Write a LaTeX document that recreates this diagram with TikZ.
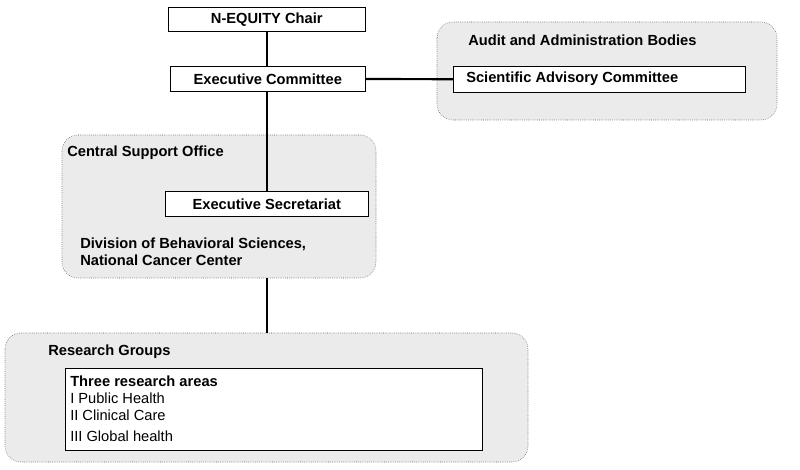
\documentclass[tikz,border=0pt]{standalone}
\usepackage{fontspec}
\setmainfont{Liberation Sans}
\usetikzlibrary{positioning}
\begin{document}
\begin{tikzpicture}
[
 x=0.75pt, y=-0.75pt,
 every node/.style={font=\fontsize{11}{13}\selectfont\bfseries},
 BOX/.style={rectangle, draw=black, fill=white, thin, inner sep=0pt, anchor=north west},
 GROUP/.style={rectangle, rounded corners=12pt, draw=black!70, densely dotted, fill=black!8},
 TITLE/.style={anchor=west, inner sep=0pt},
 PLAIN/.style={anchor=west, inner sep=0pt, font=\fontsize{11}{13}\selectfont},
 LINK/.style={line width=1.6pt},
 ]
\useasboundingbox (0,0) rectangle (800,470);
%
\draw [GROUP] (437,22) rectangle (777,120);
\draw [GROUP] (62,135) rectangle (376,278);
\draw [GROUP] (5,333) rectangle (528,462);
%
\node [TITLE] (audit) at (468,40) {Audit and Administration Bodies};
\node [TITLE] (cso)   at (67,153) {Central Support Office};
\node [TITLE] (rg)    at (48,352) {Research Groups};
%
\node [BOX, minimum width=197\pgflinewidth, text width=197*0.75pt, minimum height=18pt, align=center] (chair) at (168,7) {};
\node at (chair.center) {N-EQUITY Chair};
\node [BOX, text width=195*0.75pt, minimum height=19pt, align=center] (exec) at (170,66) {};
\node at (exec.center) {Executive Committee};
\node [BOX, text width=292*0.75pt, minimum height=19.5pt] (sac) at (453,66) {};
\node [TITLE] at (466,79) {Scientific Advisory Committee};
\node [BOX, text width=203*0.75pt, minimum height=19pt] (sec) at (165,191) {};
\node at (sec.center) {Executive Secretariat};
\node [TITLE, align=left] (div) at (80,252) {Division of Behavioral Sciences,\\National Cancer Center};
\coordinate (csobot) at (267,278);
\coordinate (rgtop)  at (267,333);
%
\node [BOX, text width=417*0.75pt, minimum height=61.5pt] (areas) at (65,368) {};
\node [TITLE] at (70,381) {Three research areas};
\node [PLAIN] at (70,398) {I Public Health};
\node [PLAIN] at (70,415) {II Clinical Care};
\node [PLAIN] at (70,436) {III Global health};
%
\draw [LINK] (chair.south -| 267,0) -- (exec.north -| 267,0);
\draw [LINK] (exec.south -| 267,0) -- (sec.north -| 267,0);
\draw [LINK] (exec.east) -- (sac.west);
\draw [LINK] (csobot) -- (rgtop);
%
\end{tikzpicture}
\end{document}
